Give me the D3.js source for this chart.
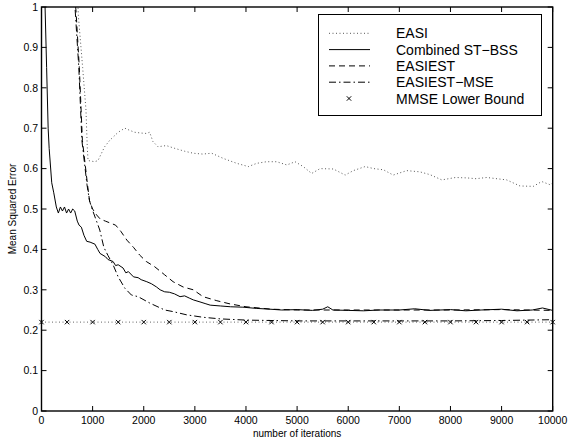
<!DOCTYPE html>
<html lang="en">
<head>
  <meta charset="UTF-8" />
  <title>MSE vs iterations</title>
  <script src="https://d3js.org/d3.v7.min.js"></script>
  <style>
    body {
      margin: 0;
      background: #fff;
      font-family: "Liberation Sans", Arial, sans-serif;
    }
    svg { display: block; }
    .tick-label { font-size: 10.5px; fill: #000; }
    .axis-title { font-size: 10px; fill: #000; }
    .legend-text { font-size: 14px; fill: #000; }
  </style>
</head>
<body>

<svg width="569" height="442"></svg>

<script>
  // iteration counts and MSE values
  const easiIter = [700, 720, 805, 870, 895, 910, 1040, 1105, 1235, 1335, 1500, 1630, 1720, 1820, 1950, 2050, 2115, 2180, 2280, 2440, 2610, 2800, 2970, 3150, 3330, 3560, 3820, 4045, 4210, 4400, 4600, 4800, 4960, 5120, 5285, 5450, 5710, 5940, 6100, 6330, 6500, 6690, 6880, 7145, 7400, 7600, 7830, 8100, 8320, 8500, 8710, 9100, 9360, 9620, 9785, 9950, 10000];
  const easiMse  = [1.05, 0.98, 0.85, 0.745, 0.654, 0.62, 0.617, 0.62, 0.654, 0.67, 0.69, 0.70, 0.695, 0.69, 0.688, 0.687, 0.69, 0.667, 0.654, 0.657, 0.65, 0.643, 0.638, 0.636, 0.638, 0.625, 0.613, 0.605, 0.613, 0.617, 0.617, 0.609, 0.617, 0.605, 0.588, 0.60, 0.599, 0.584, 0.595, 0.605, 0.60, 0.597, 0.584, 0.595, 0.592, 0.585, 0.572, 0.578, 0.577, 0.575, 0.578, 0.572, 0.557, 0.556, 0.568, 0.56, 0.565];

  const stIter = [40, 70, 100, 130, 150, 200, 240, 290, 330, 370, 410, 450, 490, 530, 570, 610, 650, 700, 735, 780, 830, 884, 950, 1045, 1100, 1145, 1250, 1300, 1400, 1450, 1500, 1595, 1650, 1700, 1800, 1890, 1950, 2060, 2150, 2250, 2320, 2410, 2500, 2600, 2710, 2800, 2900, 2970, 3100, 3200, 3300, 3500, 3700, 3940, 4200, 4470, 4700, 5000, 5300, 5500, 5600, 5700, 6000, 6300, 6600, 7000, 7300, 7600, 8000, 8300, 8600, 9000, 9300, 9600, 9800, 10000];
  const stMse  = [1.05, 1.0, 0.85, 0.7, 0.65, 0.565, 0.54, 0.505, 0.49, 0.505, 0.495, 0.505, 0.49, 0.5, 0.49, 0.5, 0.495, 0.47, 0.46, 0.455, 0.435, 0.42, 0.418, 0.413, 0.4, 0.39, 0.382, 0.375, 0.37, 0.36, 0.362, 0.354, 0.342, 0.345, 0.332, 0.33, 0.325, 0.32, 0.315, 0.307, 0.3, 0.295, 0.294, 0.29, 0.283, 0.285, 0.279, 0.275, 0.27, 0.266, 0.262, 0.26, 0.258, 0.257, 0.254, 0.252, 0.25, 0.251, 0.249, 0.252, 0.258, 0.25, 0.249, 0.248, 0.25, 0.25, 0.253, 0.249, 0.251, 0.248, 0.25, 0.252, 0.248, 0.25, 0.255, 0.249];

  const estIter = [600, 675, 740, 800, 900, 940, 1000, 1080, 1150, 1250, 1350, 1450, 1550, 1670, 1800, 1920, 2050, 2215, 2410, 2575, 2770, 2970, 3160, 3430, 3690, 4000, 4500, 5000, 6000, 7000, 8000, 9000, 10000];
  const estMse  = [1.1, 0.99, 0.85, 0.67, 0.56, 0.52, 0.5, 0.485, 0.475, 0.47, 0.465, 0.46, 0.445, 0.423, 0.405, 0.386, 0.37, 0.357, 0.337, 0.32, 0.307, 0.3, 0.283, 0.273, 0.265, 0.258, 0.252, 0.25, 0.25, 0.25, 0.25, 0.251, 0.249];

  const mseIter = [600, 660, 730, 790, 890, 940, 990, 1140, 1220, 1300, 1400, 1500, 1630, 1760, 1890, 2120, 2410, 2575, 2840, 3160, 3500, 4000, 5000, 6000, 7000, 8000, 9000, 10000];
  const mseMse  = [1.1, 0.99, 0.85, 0.67, 0.56, 0.52, 0.5, 0.448, 0.405, 0.385, 0.362, 0.332, 0.304, 0.287, 0.283, 0.267, 0.25, 0.246, 0.238, 0.232, 0.228, 0.225, 0.223, 0.223, 0.223, 0.223, 0.224, 0.226];

  const boundIter = d3.range(0, 10001, 500);
  const boundMse = 0.22;

  const xTicks = d3.range(0, 10001, 1000);
  const yTicks = [0, 0.1, 0.2, 0.3, 0.4, 0.5, 0.6, 0.7, 0.8, 0.9, 1];

  const legendNames = ["EASI", "Combined ST\u2212BSS", "EASIEST", "EASIEST\u2212MSE", "MMSE Lower Bound"];

  const svg = d3.select("svg");
  const pLeft = 41.5, pRight = 552.7, pTop = 7, pBottom = 411;

  const x = d3.scaleLinear().domain([0, 10000]).range([pLeft, pRight]);
  const y = d3.scaleLinear().domain([0, 1]).range([pBottom, pTop]);

  svg.append("defs").append("clipPath").attr("id", "plot")
    .append("rect")
    .attr("x", pLeft).attr("y", pTop)
    .attr("width", pRight - pLeft).attr("height", pBottom - pTop);

  const zip = (xs, ys) => xs.map((v, i) => [v, ys[i]]);
  const line = d3.line().x(d => x(d[0])).y(d => y(d[1]));

  const series = [
    { data: zip(easiIter, easiMse), stroke: "#555", dash: "1,2.5" },
    { data: zip(stIter, stMse), stroke: "#000", dash: null },
    { data: zip(estIter, estMse), stroke: "#000", dash: "6,4" },
    { data: zip(mseIter, mseMse), stroke: "#000", dash: "7,3,1.5,3" }
  ];

  const plot = svg.append("g").attr("clip-path", "url(#plot)");

  // dotted line under the lower bound markers
  plot.append("path")
    .attr("d", line(boundIter.map(i => [i, boundMse])))
    .attr("fill", "none")
    .attr("stroke", "#666")
    .attr("stroke-dasharray", "1,2.5");

  plot.selectAll("path.series")
    .data(series)
    .enter().append("path")
    .attr("class", "series")
    .attr("d", d => line(d.data))
    .attr("fill", "none")
    .attr("stroke", d => d.stroke)
    .attr("stroke-width", 1)
    .attr("stroke-dasharray", d => d.dash);

  const cross = (cx, cy, s) =>
    `M${cx - s},${cy - s}L${cx + s},${cy + s}M${cx - s},${cy + s}L${cx + s},${cy - s}`;

  svg.selectAll("path.mark")
    .data(boundIter)
    .enter().append("path")
    .attr("class", "mark")
    .attr("d", d => cross(x(d), y(boundMse), 2.2))
    .attr("stroke", "#000")
    .attr("stroke-width", 1);

  // axes box with inward ticks on all sides
  const tickLen = 5;
  const axes = svg.append("g").attr("stroke", "#000").attr("stroke-width", 1);
  xTicks.forEach(t => {
    axes.append("line").attr("x1", x(t)).attr("x2", x(t)).attr("y1", pBottom).attr("y2", pBottom - tickLen);
    axes.append("line").attr("x1", x(t)).attr("x2", x(t)).attr("y1", pTop).attr("y2", pTop + tickLen);
  });
  yTicks.forEach(t => {
    axes.append("line").attr("x1", pLeft).attr("x2", pLeft + tickLen).attr("y1", y(t)).attr("y2", y(t));
    axes.append("line").attr("x1", pRight).attr("x2", pRight - tickLen).attr("y1", y(t)).attr("y2", y(t));
  });
  svg.append("rect")
    .attr("x", pLeft).attr("y", pTop)
    .attr("width", pRight - pLeft).attr("height", pBottom - pTop)
    .attr("fill", "none").attr("stroke", "#000").attr("stroke-width", 1.4);

  svg.selectAll("text.xt")
    .data(xTicks)
    .enter().append("text")
    .attr("class", "tick-label")
    .attr("x", d => x(d)).attr("y", 424)
    .attr("text-anchor", "middle")
    .text(d => d);

  svg.selectAll("text.yt")
    .data(yTicks)
    .enter().append("text")
    .attr("class", "tick-label")
    .attr("x", 38).attr("y", d => y(d) + 3.8)
    .attr("text-anchor", "end")
    .text(d => d);

  svg.append("text")
    .attr("class", "axis-title")
    .attr("x", (pLeft + pRight) / 2).attr("y", 437)
    .attr("text-anchor", "middle")
    .text("number of iterations");

  svg.append("text")
    .attr("class", "axis-title")
    .attr("transform", `translate(16,${(pTop + pBottom) / 2}) rotate(-90)`)
    .attr("text-anchor", "middle")
    .text("Mean Squared Error");

  // legend
  const lg = svg.append("g");
  lg.append("rect")
    .attr("x", 318.5).attr("y", 14.5)
    .attr("width", 223).attr("height", 101)
    .attr("fill", "#fff").attr("stroke", "#000").attr("stroke-width", 1);

  legendNames.forEach((name, i) => {
    const ly = 33.3 + i * 16.3;
    if (i < 4) {
      const s = series[i];
      lg.append("line")
        .attr("x1", 329).attr("x2", 370).attr("y1", ly).attr("y2", ly)
        .attr("stroke", s.stroke).attr("stroke-dasharray", s.dash);
    } else {
      lg.append("path").attr("d", cross(349, ly, 2.2)).attr("stroke", "#000");
    }
    lg.append("text")
      .attr("class", "legend-text")
      .attr("x", 396).attr("y", ly + 5)
      .text(name);
  });
</script>

</body>
</html>
